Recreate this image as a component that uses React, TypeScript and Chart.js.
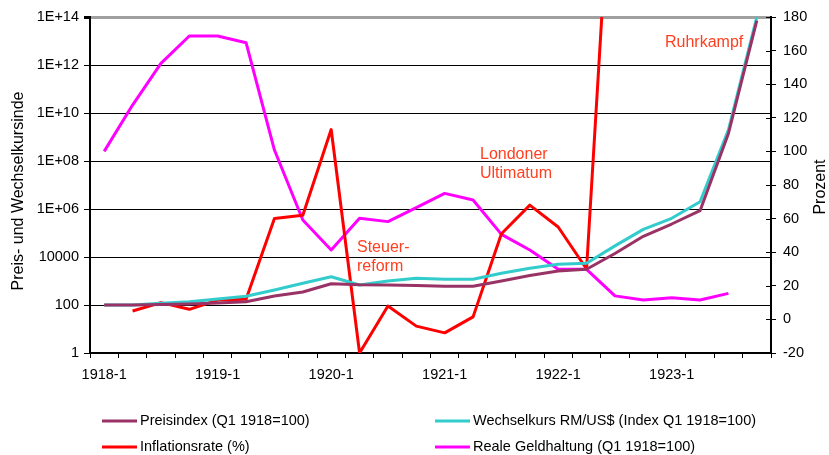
import React, { useEffect, useRef } from "react";
import { Chart, registerables } from "chart.js";

Chart.register(...registerables);

const FONT = "'Liberation Sans', Arial, sans-serif";

const quarters: string[] = [
  "1918-1", "1918-2", "1918-3", "1918-4",
  "1919-1", "1919-2", "1919-3", "1919-4",
  "1920-1", "1920-2", "1920-3", "1920-4",
  "1921-1", "1921-2", "1921-3", "1921-4",
  "1922-1", "1922-2", "1922-3", "1922-4",
  "1923-1", "1923-2", "1923-3", "1923-4",
];

// left axis (log): index values
const preisindex: number[] = [
  100, 100, 105, 110, 120, 137, 237, 350, 770, 700, 680, 650,
  600, 600, 1000, 1700, 2600, 3100, 14000, 73000, 237000, 850000, 1.4e9, 7e13,
];
const wechselkurs: number[] = [
  100, 100, 118, 137, 178, 230, 420, 800, 1500, 680, 1000, 1300,
  1180, 1180, 2100, 3400, 5000, 5500, 29000, 142000, 410000, 2e6, 2e9, 1e14,
];
// right axis (%)
const inflationsrate: (number | null)[] = [
  null, 5, 10, 6, 11.5, 12, 60, 62, 113, -20, 8, -4,
  -8, 1.5, 51, 68, 55, 30, 310, null, null, null, null, null,
];
const realeGeldhaltung: (number | null)[] = [
  100, 127.6, 152.4, 168.7, 168.7, 164.7, 100.8, 59.2, 41.3, 60.2, 58.2, 66.5,
  75, 71.1, 50.6, 41.3, 29.8, 29.8, 14, 11.5, 12.9, 11.5, 15.5, null,
];

const leftTicks: number[] = [1, 100, 10000, 1e6, 1e8, 1e10, 1e12, 1e14];
const leftTickLabels: string[] = ["1", "100", "10000", "1E+06", "1E+08", "1E+10", "1E+12", "1E+14"];

const seriesNames: string[] = [
  "Preisindex (Q1 1918=100)",
  "Wechselkurs RM/US$ (Index Q1 1918=100)",
  "Inflationsrate (%)",
  "Reale Geldhaltung (Q1 1918=100)",
];
const seriesColors: string[] = ["#993366", "#33CCCC", "#FF0000", "#FF00FF"];

const leftTitle = "Preis- und Wechselkursinde";
const rightTitle = "Prozent";
const annotations: { text: string[]; x: number; y: number }[] = [
  { text: ["Ruhrkampf"], x: 665, y: 43 },
  { text: ["Londoner", "Ultimatum"], x: 480, y: 155 },
  { text: ["Steuer-", "reform"], x: 357, y: 248 },
];

const overlay = {
  id: "overlay",
  afterDraw(chart: any) {
    const ctx = chart.ctx as CanvasRenderingContext2D;
    const yR = chart.scales.yR;
    ctx.save();
    // inner tick marks for right axis
    ctx.strokeStyle = "#000";
    ctx.lineWidth = 1;
    yR.ticks.forEach((t: any) => {
      const y = Math.round(yR.getPixelForValue(t.value)) + 0.5;
      ctx.beginPath();
      ctx.moveTo(yR.left - 5, y);
      ctx.lineTo(yR.left, y);
      ctx.stroke();
    });
    // axis titles
    ctx.fillStyle = "#000";
    ctx.textAlign = "center";
    ctx.textBaseline = "middle";
    ctx.font = `16px ${FONT}`;
    ctx.save();
    ctx.translate(19, 191);
    ctx.rotate(-Math.PI / 2);
    ctx.fillText(leftTitle, 0, 0);
    ctx.restore();
    ctx.save();
    ctx.translate(821, 187);
    ctx.rotate(-Math.PI / 2);
    ctx.fillText(rightTitle, 0, 0);
    ctx.restore();
    // annotations
    ctx.fillStyle = "#FF4020";
    ctx.font = `16px ${FONT}`;
    ctx.textAlign = "left";
    annotations.forEach((a) => {
      a.text.forEach((line, i) => ctx.fillText(line, a.x, a.y + i * 19));
    });
    // legend
    const colX = [102, 435];
    const rowY = [421, 447];
    ctx.font = `14.5px ${FONT}`;
    ctx.fillStyle = "#000";
    seriesNames.forEach((name, i) => {
      const x = colX[i % 2];
      const y = rowY[Math.floor(i / 2)];
      ctx.strokeStyle = seriesColors[i];
      ctx.lineWidth = 3;
      ctx.beginPath();
      ctx.moveTo(x, y);
      ctx.lineTo(x + 35, y);
      ctx.stroke();
      ctx.fillText(name, x + 38, y);
    });
    ctx.restore();
  },
};

export default function App() {
  const ref = useRef<HTMLCanvasElement | null>(null);
  useEffect(() => {
    if (!ref.current) return;
    const tickFont = { family: FONT, size: 14.5 };
    const chart = new Chart(ref.current, {
      type: "line",
      data: {
        labels: quarters,
        datasets: [
          { label: seriesNames[0], data: preisindex, yAxisID: "yL", borderColor: seriesColors[0] },
          { label: seriesNames[1], data: wechselkurs, yAxisID: "yL", borderColor: seriesColors[1] },
          { label: seriesNames[2], data: inflationsrate, yAxisID: "yR", borderColor: seriesColors[2] },
          { label: seriesNames[3], data: realeGeldhaltung, yAxisID: "yR", borderColor: seriesColors[3] },
        ].map((d) => ({
          ...d,
          borderWidth: 3,
          pointRadius: 0,
          tension: 0,
          fill: false,
          spanGaps: false,
          borderJoinStyle: "round" as const,
        })),
      },
      options: {
        responsive: false,
        animation: false,
        color: "#000",
        layout: { padding: { top: 17, left: 0, right: 0, bottom: 0 } },
        plugins: { legend: { display: false }, tooltip: { enabled: false } },
        scales: {
          x: {
            type: "category",
            offset: true,
            grid: { drawOnChartArea: false, tickLength: 5, color: "#000", offset: true },
            border: { color: "#000", width: 2 },
            ticks: {
              autoSkip: false,
              maxRotation: 0,
              minRotation: 0,
              padding: 8,
              color: "#000",
              font: tickFont,
              callback: (_v: any, i: number) => (i % 4 === 0 ? quarters[i] : ""),
            },
            afterFit: (s: any) => {
              s.height = 102;
            },
          },
          yL: {
            type: "logarithmic",
            position: "left",
            min: 1,
            max: 1e14,
            border: { color: "#000", width: 2 },
            grid: {
              color: (c: any) => (c.tick && c.tick.value === 1e14 ? "#A0A0A0" : "#000"),
              lineWidth: (c: any) => (c.tick && c.tick.value === 1e14 ? 3 : 1),
              tickColor: "#000",
              tickLength: 6,
            },
            afterBuildTicks: (s: any) => {
              s.ticks = leftTicks.map((v) => ({ value: v }));
            },
            ticks: {
              padding: 5,
              color: "#000",
              font: tickFont,
              callback: (v: any) => {
                const i = leftTicks.indexOf(Number(v));
                return i >= 0 ? leftTickLabels[i] : "";
              },
            },
            afterFit: (s: any) => {
              s.width = 90;
            },
          },
          yR: {
            type: "linear",
            position: "right",
            min: -20,
            max: 180,
            border: { color: "#000", width: 2 },
            grid: { drawOnChartArea: false, tickLength: 5, color: "#000" },
            ticks: { stepSize: 20, padding: 7, color: "#000", font: tickFont },
            afterFit: (s: any) => {
              s.width = 58;
            },
          },
        },
      },
      plugins: [overlay],
    });
    return () => chart.destroy();
  }, []);
  return (
    <div style={{ position: "fixed", left: 0, top: 0, width: 829, height: 455, background: "#fff" }}>
      <canvas ref={ref} width={829} height={455} style={{ display: "block" }} />
    </div>
  );
}
